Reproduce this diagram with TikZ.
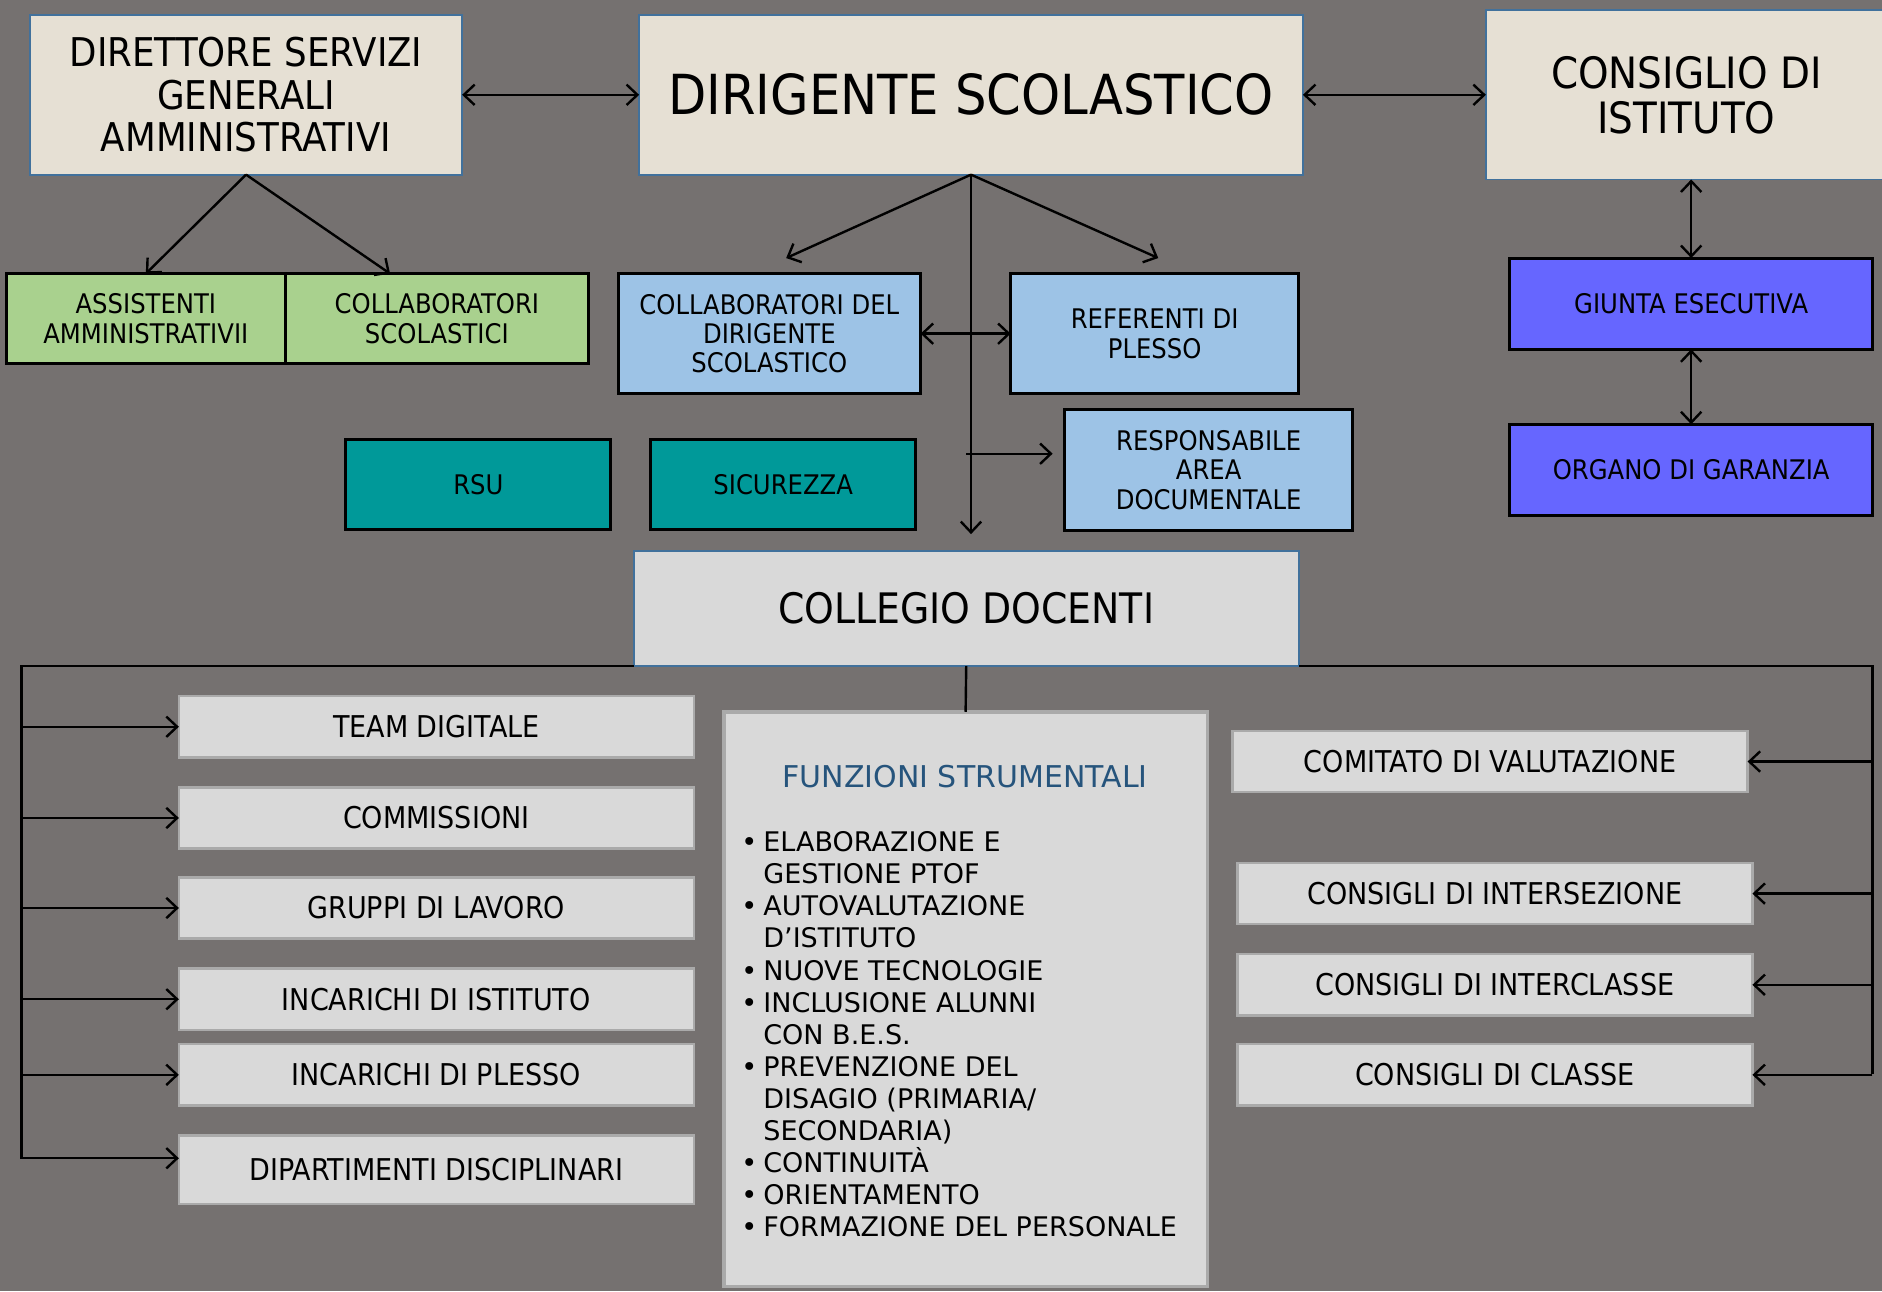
\documentclass[tikz,border=0pt]{standalone}
\usepackage{fontspec}
\setmainfont{DejaVu Sans}[FakeStretch=0.9]
\newfontfamily\listfont{DejaVu Sans}
\usepackage{tikz}
\usetikzlibrary{arrows.meta}

\definecolor{bggrey}{RGB}{117,113,112}
\definecolor{beige}{RGB}{230,224,212}
\definecolor{topblue}{RGB}{65,113,156}
\definecolor{leafgreen}{RGB}{169,209,142}
\definecolor{skyblue}{RGB}{157,195,230}
\definecolor{petrol}{RGB}{0,153,153}
\definecolor{violetblue}{RGB}{102,102,255}
\definecolor{panegrey}{RGB}{217,217,217}
\definecolor{boxedge}{RGB}{170,170,170}
\definecolor{titleblue}{RGB}{38,84,124}

\tikzset{
	box/.style={inner sep=0pt, outer sep=0pt, align=center},
	topbox/.style={box, draw=topblue, line width=1.5pt, fill=beige},
	midbox/.style={box, draw=black, line width=2.5pt, font=\fontsize{22.5}{24.5}\selectfont},
	greenbox/.style={midbox, fill=leafgreen, minimum height=75pt},
	bluebox/.style={midbox, fill=skyblue, minimum width=240pt, minimum height=100pt},
	tealbox/.style={midbox, fill=petrol, minimum width=221pt, minimum height=75pt},
	violetbox/.style={midbox, fill=violetblue, minimum width=302pt, minimum height=76pt},
	greybox/.style={box, draw=boxedge, line width=2pt, fill=panegrey, minimum width=429pt, minimum height=51pt, font=\fontsize{25}{27}\selectfont}
}

\begin{document}
\begin{tikzpicture}[x=1pt, y=-1pt, line width=2pt, >={Straight Barb[length=9pt,width=17pt]}]
	\fill[bggrey] (0,0) rectangle (1568,1076);
	\useasboundingbox (0,0) rectangle (1568,1076);

	\node[topbox, minimum width=360pt, minimum height=133pt, font=\fontsize{33}{35.5}\selectfont] (dsga) at (205,79) {DIRETTORE SERVIZI\\GENERALI\\AMMINISTRATIVI};
	\node[topbox, minimum width=553pt, minimum height=133pt, font=\fontsize{46}{48}\selectfont] (ds) at (809,79) {DIRIGENTE SCOLASTICO};
	\node[topbox, minimum width=334pt, minimum height=141pt, font=\fontsize{36}{37.5}\selectfont] (cdi) at (1405,79) {CONSIGLIO DI\\ISTITUTO};

	\node[greenbox, minimum width=233pt] (ass) at (121.5,265.5) {ASSISTENTI\\AMMINISTRATIVII};
	\node[greenbox, minimum width=252pt] (coll) at (364,265.5) {COLLABORATORI\\SCOLASTICI};

	\node[bluebox, minimum width=252pt] (cds) at (641,278) {COLLABORATORI DEL\\DIRIGENTE\\SCOLASTICO};
	\node[bluebox] (ref) at (962,278) {REFERENTI DI\\PLESSO};
	\node[bluebox, minimum height=101pt] (resp) at (1007,391.5) {RESPONSABILE\\AREA\\DOCUMENTALE};

	\node[tealbox] (rsu) at (398.5,403.5) {RSU};
	\node[tealbox] (sic) at (652.5,403.5) {SICUREZZA};

	\node[violetbox] (giunta) at (1409,253) {GIUNTA ESECUTIVA};
	\node[violetbox] (organo) at (1409,391.5) {ORGANO DI GARANZIA};

	\node[topbox, fill=panegrey, minimum width=554pt, minimum height=96pt, font=\fontsize{35}{37}\selectfont] (collegio) at (805,507) {COLLEGIO DOCENTI};

	\node[box, draw=boxedge, line width=3pt, fill=panegrey, minimum width=403pt, minimum height=479pt] (fs) at (804.5,832.5) {};
	\node[font=\listfont\fontsize{25}{27}\selectfont, text=titleblue] (fstitle) at (804,647) {FUNZIONI STRUMENTALI};
	\node[anchor=north west, align=left, inner sep=0pt, font=\listfont\fontsize{22.5}{26.7}\selectfont] (fslist) at (635,692) {%
		\llap{\textbullet\hspace{5pt}}ELABORAZIONE E\\
		GESTIONE PTOF\\
		\llap{\textbullet\hspace{5pt}}AUTOVALUTAZIONE\\
		D’ISTITUTO\\
		\llap{\textbullet\hspace{5pt}}NUOVE TECNOLOGIE\\
		\llap{\textbullet\hspace{5pt}}INCLUSIONE ALUNNI\\
		CON B.E.S.\\
		\llap{\textbullet\hspace{5pt}}PREVENZIONE DEL\\
		DISAGIO (PRIMARIA/\\
		SECONDARIA)\\
		\llap{\textbullet\hspace{5pt}}CONTINUITÀ\\
		\llap{\textbullet\hspace{5pt}}ORIENTAMENTO\\
		\llap{\textbullet\hspace{5pt}}FORMAZIONE DEL PERSONALE};

	\node[greybox] (team) at (363.5,605.5) {TEAM DIGITALE};
	\node[greybox] (comm) at (363.5,681.5) {COMMISSIONI};
	\node[greybox] (grup) at (363.5,756.5) {GRUPPI DI LAVORO};
	\node[greybox] (inci) at (363.5,832.5) {INCARICHI DI ISTITUTO};
	\node[greybox] (incp) at (363.5,895.5) {INCARICHI DI PLESSO};
	\node[greybox, minimum height=57pt] (dip) at (363.5,974.5) {DIPARTIMENTI DISCIPLINARI};

	\node[greybox] (comv) at (1241.5,634.5) {COMITATO DI VALUTAZIONE};
	\node[greybox] (cint) at (1245.5,744.5) {CONSIGLI DI INTERSEZIONE};
	\node[greybox] (cinc) at (1245.5,820.5) {CONSIGLI DI INTERCLASSE};
	\node[greybox] (ccla) at (1245.5,895.5) {CONSIGLI DI CLASSE};

	\coordinate (dsfoot) at (809,445);
	\coordinate (tap) at (805,378);
	\coordinate (lcorner) at (18,555);
	\coordinate (lend) at (18,965);
	\coordinate (rcorner) at (1560,555);
	\coordinate (rend) at (1560,895);

	\path [<->] (dsga) edge (ds);
	\path [<->] (ds) edge (cdi);
	\path [->] (dsga.south) edge (ass.north);
	\path [->] (dsga.south) edge ([xshift=-39pt]coll.north);
	\path [->] (ds.south) edge ([xshift=14pt,yshift=13pt]cds.north);
	\path [->] (ds.south) edge ([xshift=3pt,yshift=13pt]ref.north);
	\path [->] (ds.south) edge (dsfoot);
	\path [<->] (cds) edge (ref);
	\path [->] (tap) edge ([xshift=-10pt,yshift=13.5pt]resp.west);
	\path [<->] (giunta.north |- cdi.south) edge (giunta.north);
	\path [<->] (giunta) edge (organo);

	\draw (collegio.south) -- (fs.north);
	\draw [->] (collegio.south west) -- (lcorner) -- (lend) -- ([yshift=9.5pt]dip.west);
	\path [->] (lcorner |- team.west) edge (team.west);
	\path [->] (lcorner |- comm.west) edge (comm.west);
	\path [->] (lcorner |- grup.west) edge (grup.west);
	\path [->] (lcorner |- inci.west) edge (inci.west);
	\path [->] (lcorner |- incp.west) edge (incp.west);
	\draw (collegio.south east) -- (rcorner) -- (rend);
	\path [->] (rcorner |- comv.east) edge (comv.east);
	\path [->] (rcorner |- cint.east) edge (cint.east);
	\path [->] (rcorner |- cinc.east) edge (cinc.east);
	\path [->] (rcorner |- ccla.east) edge (ccla.east);
\end{tikzpicture}
\end{document}
